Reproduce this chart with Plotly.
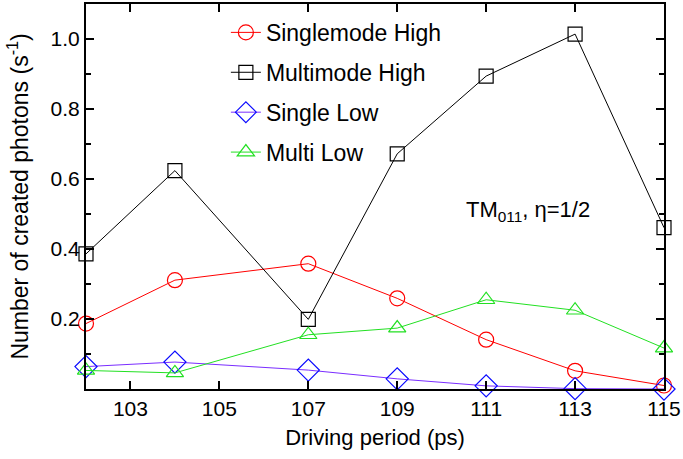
import plotly.graph_objects as go

period = [102, 104, 107, 109, 111, 113, 115]
single_high = [0.187, 0.311, 0.358, 0.259, 0.141, 0.052, 0.010]
multi_high = [0.386, 0.624, 0.199, 0.672, 0.894, 1.014, 0.461]
single_low = [0.064, 0.077, 0.054, 0.029, 0.009, 0.001, 0.000]
multi_low = [0.053, 0.046, 0.155, 0.174, 0.255, 0.225, 0.117]

names = ["Singlemode High", "Multimode High", "Single Low", "Multi Low"]
x_ticks = [103, 105, 107, 109, 111, 113, 115]
y_ticks = [0.2, 0.4, 0.6, 0.8, 1.0]
y_tick_text = ["0.2", "0.4", "0.6", "0.8", "1.0"]

FONT = "Liberation Sans, Arial, Helvetica, sans-serif"

fig = go.Figure()
series = [
    (single_high, names[0], "#ff0000", "#ff0000", "circle-open", 15),
    (multi_high, names[1], "#000000", "#000000", "square-open", 14),
    (single_low, names[2], "#7a2dff", "#0a0aff", "diamond-open", 17),
    (multi_low, names[3], "#22e022", "#22e022", "triangle-up-open", 15),
]
for i, (vals, name, lc, mc, sym, sz) in enumerate(series):
    fig.add_trace(go.Scatter(
        x=period, y=vals, name=name, mode="lines+markers",
        legendgroup=str(i),
        line=dict(color=lc, width=1),
        marker=dict(symbol=sym, size=sz, color=mc, line=dict(color=mc, width=1.2)),
        cliponaxis=False,
    ))

fig.add_annotation(
    x=111.95, y=0.51, xref="x", yref="y",
    text="TM<sub>011</sub>, η=1/2", showarrow=False,
    font=dict(family=FONT, size=22, color="#000"),
)

fig.update_layout(
    width=683, height=459,
    margin=dict(l=86, r=17, t=2, b=70),
    paper_bgcolor="white", plot_bgcolor="white",
    font=dict(family=FONT, size=22, color="#000"),
    showlegend=True,
    legend=dict(
        x=0.242, y=0.982, xanchor="left", yanchor="top",
        bgcolor="rgba(0,0,0,0)", tracegroupgap=7,
        font=dict(family=FONT, size=23, color="#000"),
    ),
    xaxis=dict(
        range=[102, 115], tickvals=x_ticks,
        ticks="inside", ticklen=8, tickwidth=1.5, tickcolor="#000",
        showline=True, linecolor="#000", linewidth=2, mirror="ticks",
        showgrid=False, zeroline=False,
        title=dict(text="Driving period (ps)", font=dict(family=FONT, size=22), standoff=10),
        tickfont=dict(family=FONT, size=21),
    ),
    yaxis=dict(
        range=[0, 1.1], tickvals=y_ticks, ticktext=y_tick_text,
        ticks="inside", ticklen=8, tickwidth=1.5, tickcolor="#000",
        minor=dict(tickvals=[0.1, 0.3, 0.5, 0.7, 0.9], ticks="inside", ticklen=5, tickwidth=1.5, tickcolor="#000"),
        showline=True, linecolor="#000", linewidth=2, mirror="ticks",
        showgrid=False, zeroline=False,
        title=dict(text="Number of created photons (s<sup>-1</sup>)", font=dict(family=FONT, size=23), standoff=16),
        tickfont=dict(family=FONT, size=21),
    ),
)

fig.write_html("out.html")
